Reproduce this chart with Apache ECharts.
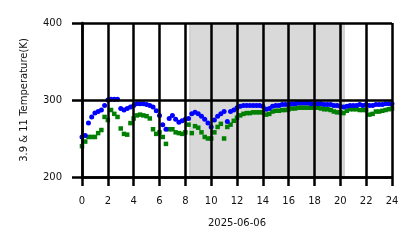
<!DOCTYPE html>
<html><head><meta charset="utf-8">
<script src="https://cdn.jsdelivr.net/npm/echarts@6/dist/echarts.min.js"></script>
<style>html,body{margin:0;padding:0;background:#fff}#c{width:418px;height:248px}</style>
</head><body><div id="c"></div>
<script>
// time in hours at 15-minute steps
const hours = [0,0.25,0.5,0.75,1,1.25,1.5,1.75,2,2.25,2.5,2.75,3,3.25,3.5,3.75,4,4.25,4.5,4.75,5,5.25,5.5,5.75,6,6.25,6.5,6.75,7,7.25,7.5,7.75,8,8.25,8.5,8.75,9,9.25,9.5,9.75,10,10.25,10.5,10.75,11,11.25,11.5,11.75,12,12.25,12.5,12.75,13,13.25,13.5,13.75,14,14.25,14.5,14.75,15,15.25,15.5,15.75,16,16.25,16.5,16.75,17,17.25,17.5,17.75,18,18.25,18.5,18.75,19,19.25,19.5,19.75,20,20.25,20.5,20.75,21,21.25,21.5,21.75,22,22.25,22.5,22.75,23,23.25,23.5,23.75,24];
const temp39 = [252,254,270,278,283,285,287,293,300,301,301,301,289,287,289,291,293,295,295,295,294,293,291,286,280,268,262,276,280,275,271,273,275,276,282,284,282,279,275,270,265,274,279,282,285,272,285,287,290,292,293,293,293,293,293,293,292,288,289,292,293,293,294,294,294,295,295,296,296,296,296,295,295,295,295,294,294,294,293,293,292,291,292,293,293,293,294,293,294,293,293,294,294,294,295,295,295];
const temp11 = [240,246,252,252,252,257,261,278,274,287,282,278,263,256,255,270,276,280,281,280,279,276,262,256,258,252,243,262,262,258,257,256,258,268,257,266,264,258,252,250,250,258,265,269,250,265,268,273,277,280,282,283,283,284,284,284,284,281,282,285,286,286,287,287,288,289,289,290,290,290,290,290,290,290,289,288,288,287,285,284,284,283,286,288,288,288,287,287,287,281,282,285,285,286,287,288,289];
const xTicks = [0,2,4,6,8,10,12,14,16,18,20,22,24];
const yTicks = [200,300,400];
const nightEnd = 8.35, nightStart = 20.3;
const dateLabel = '2025-06-06';
const yName = '3.9 & 11 Temperature(K)';

const s39 = hours.map((h,i)=>[h,temp39[i]]);
const s11 = hours.map((h,i)=>[h,temp11[i]]);
const chart = echarts.init(document.getElementById('c'));
const font = {fontFamily:'DejaVu Sans', fontSize:10, color:'#111'};
chart.setOption({
  animation:false,
  grid:{left:82,right:26,top:23,bottom:71},
  xAxis:{type:'value',min:0,max:24,interval:2,z:5,
    name:dateLabel,nameLocation:'middle',nameGap:41,nameTextStyle:font,
    axisLine:{show:true,lineStyle:{color:'#000',width:2.5}},
    axisTick:{show:true,length:9,lineStyle:{color:'#000',width:2.5}},
    axisLabel:Object.assign({margin:19,formatter:v=>xTicks.includes(v)?String(v):''},font),
    splitLine:{show:true,lineStyle:{color:'#000',width:2.5}}},
  yAxis:{type:'value',min:200,max:400,interval:100,z:5,
    name:yName,nameLocation:'middle',nameGap:53,nameTextStyle:font,
    axisLine:{show:true,lineStyle:{color:'#000',width:2.5}},
    axisTick:{show:true,length:10,lineStyle:{color:'#000',width:2.5}},
    axisLabel:Object.assign({margin:20,formatter:v=>yTicks.includes(v)?String(v):''},font),
    splitLine:{show:true,lineStyle:{color:'#000',width:2.5}}},
  series:[
    {type:'scatter',data:s11,symbol:'rect',symbolSize:4.5,itemStyle:{color:'#008000',opacity:1},z:2,
     markArea:{silent:true,itemStyle:{color:'#d9d9d9',opacity:1,borderColor:'#c4c4c4',borderWidth:1},
       data:[[{xAxis:nightEnd},{xAxis:nightStart}]]}},
    {type:'scatter',data:s39,symbol:'circle',symbolSize:5,itemStyle:{color:'#0000ff',opacity:1},z:3}
  ]
});
</script></body></html>
